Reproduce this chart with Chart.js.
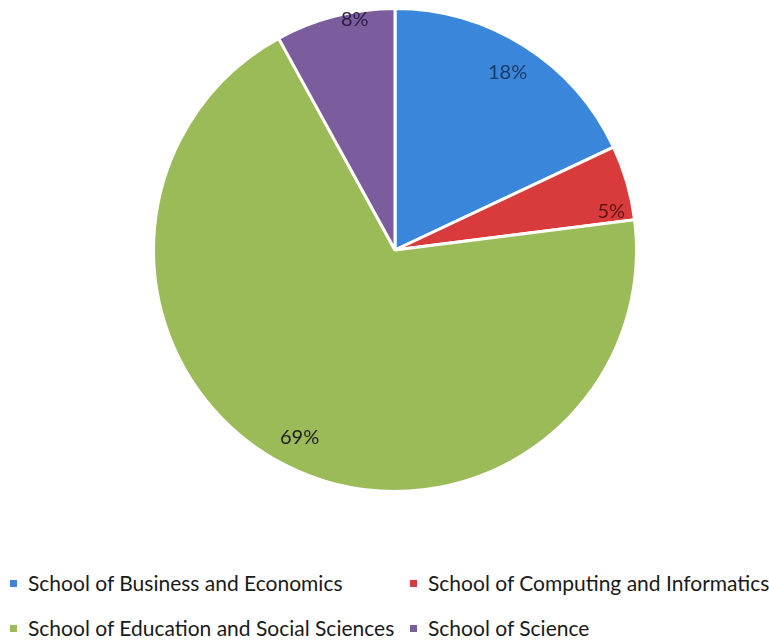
<!DOCTYPE html>
<html>
<head>
<meta charset="utf-8">
<script src="https://cdn.jsdelivr.net/npm/chart.js@4.4.1/dist/chart.umd.min.js"></script>
<style>
  body { margin: 0; background: #fff; width: 769px; height: 641px; overflow: hidden; font-family: Lato, sans-serif; }
  #wrap { position: absolute; left: 0; top: 0; width: 769px; height: 510px; }
  .legende { position: absolute; font-size: 21px; color: #1a1a1a; white-space: nowrap; line-height: 22px; }
  .legende i { display: inline-block; width: 7px; height: 7px; margin-right: 11px; vertical-align: middle; position: relative; top: -2px; }
</style>
</head>
<body>
<div id="wrap"><canvas id="graficoPizza"></canvas></div>
<div id="legenda"></div>
<script>
const escolas = [
    'School of Business and Economics',
    'School of Computing and Informatics',
    'School of Education and Social Sciences',
    'School of Science'
];
const percentuais = [18, 5, 69, 8];
const cores = ['#3a86db', '#d93a3c', '#9bbb59', '#7b5c9d'];
const coresTexto = ['#1b3a66', '#5e1414', '#1e1e1e', '#2a1c40'];

// ajuste de onde cada rótulo fica dentro da fatia (raio relativo, desvio em graus)
const posRotulo = [
    { r: 0.87, da: 0 },
    { r: 0.91, da: 6 },
    { r: 0.87, da: 0 },
    { r: 0.97, da: 4.5 }
];

const rotulosPizza = {
    id: 'rotulosPizza',
    afterDatasetsDraw(chart) {
        const ctx = chart.ctx;
        const meta = chart.getDatasetMeta(0);
        ctx.save();
        ctx.font = '20px Lato';
        ctx.textAlign = 'center';
        ctx.textBaseline = 'middle';
        meta.data.forEach((arc, i) => {
            const p = posRotulo[i];
            const ang = (arc.startAngle + arc.endAngle) / 2 + p.da * Math.PI / 180;
            const x = arc.x + Math.cos(ang) * arc.outerRadius * p.r;
            const y = arc.y + Math.sin(ang) * arc.outerRadius * p.r;
            ctx.fillStyle = coresTexto[i];
            ctx.fillText(percentuais[i] + '%', x, y);
        });
        ctx.restore();
    }
};

const ctx = document.getElementById('graficoPizza').getContext('2d');
new Chart(ctx, {
    type: 'pie',
    data: {
        labels: escolas,
        datasets: [{
            data: percentuais,
            backgroundColor: cores,
            borderColor: '#ffffff',
            borderWidth: 3
        }]
    },
    options: {
        responsive: true,
        maintainAspectRatio: false,
        animation: false,
        layout: { padding: { left: 152, right: 131, top: 7, bottom: 17 } },
        plugins: {
            legend: { display: false },
            tooltip: { enabled: false }
        }
    },
    plugins: [rotulosPizza]
});

// legenda em duas colunas, como no original
const colunas = [10, 410];
const linhas = [583, 628];
const legenda = document.getElementById('legenda');
escolas.forEach((nome, i) => {
    const item = document.createElement('div');
    item.className = 'legende';
    item.style.left = colunas[i % 2] + 'px';
    item.style.top = (linhas[Math.floor(i / 2)] - 11) + 'px';
    item.innerHTML = '<i style="background:' + cores[i] + '"></i>' + nome;
    legenda.appendChild(item);
});
</script>
</body>
</html>
